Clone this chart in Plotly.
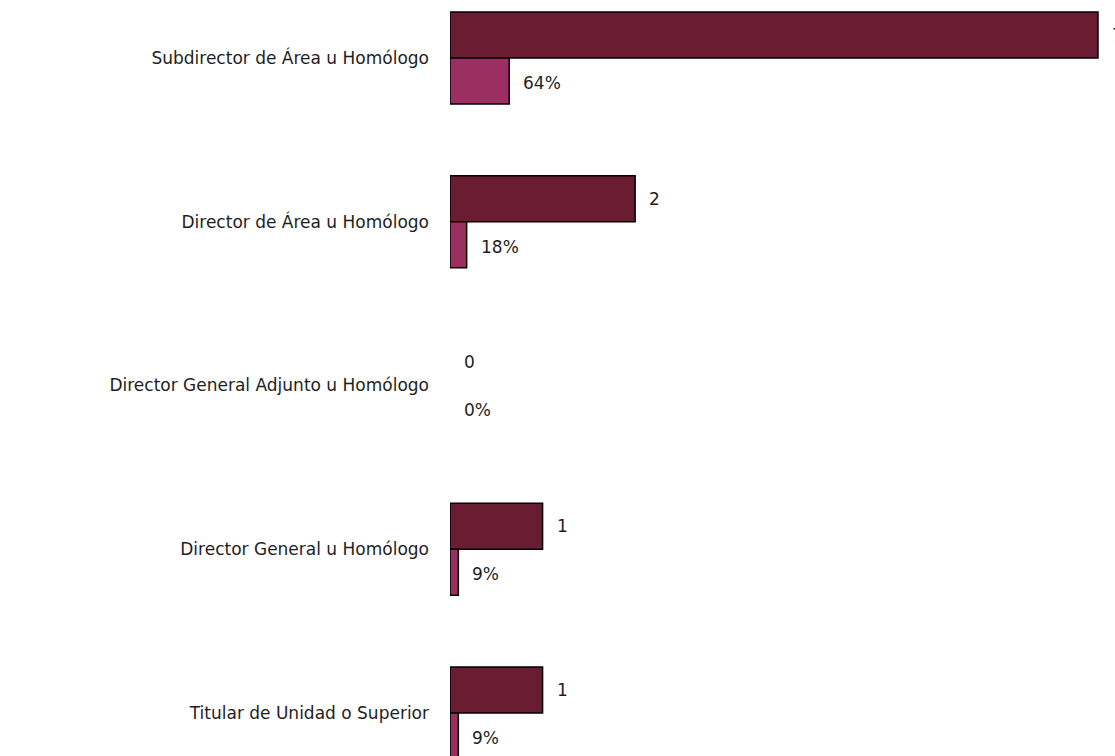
import plotly.graph_objects as go

# Puestos, de arriba hacia abajo
categorias = [
    "Subdirector de Área u Homólogo",
    "Director de Área u Homólogo",
    "Director General Adjunto u Homólogo",
    "Director General u Homólogo",
    "Titular de Unidad o Superior",
]
cantidad = [7, 2, 0, 1, 1]
porcentaje = [0.64, 0.18, 0.0, 0.09, 0.09]

COLOR_CANT = "#691C32"
COLOR_PCT = "#9C2F62"
FUENTE = "DejaVu Sans, Noto Sans, sans-serif"
COLOR_TEXTO = "#1E1E1E"


def bordes(valores):
    # sin contorno en barras de longitud cero
    return [1.5 if v > 0 else 0 for v in valores]


fig = go.Figure()
fig.add_trace(go.Bar(
    y=categorias, x=cantidad, orientation="h", name="Cantidad",
    marker=dict(color=COLOR_CANT, line=dict(color="#000000", width=bordes(cantidad))),
))
fig.add_trace(go.Bar(
    y=categorias, x=porcentaje, orientation="h", name="Porcentaje",
    marker=dict(color=COLOR_PCT, line=dict(color="#000000", width=bordes(porcentaje))),
))

# Etiquetas de valor junto al extremo de cada barra
anot = []
for cat, c, p in zip(categorias, cantidad, porcentaje):
    anot.append(dict(x=c, y=cat, xref="x", yref="y", text=str(c),
                     showarrow=False, xanchor="left", xshift=12, yshift=23,
                     font=dict(family=FUENTE, size=17, color=COLOR_TEXTO)))
    anot.append(dict(x=p, y=cat, xref="x", yref="y", text=f"{round(p*100)}%",
                     showarrow=False, xanchor="left", xshift=12, yshift=-25,
                     font=dict(family=FUENTE, size=17, color=COLOR_TEXTO)))

fig.update_layout(
    width=1115, height=756,
    margin=dict(l=450, r=0, t=0, b=0),
    paper_bgcolor="#FFFFFF", plot_bgcolor="rgba(0,0,0,0)",
    barmode="group", bargap=0.438, bargroupgap=0,
    showlegend=False,
    annotations=anot,
    font=dict(family=FUENTE, size=17, color=COLOR_TEXTO),
)
fig.update_xaxes(range=[0, 7.184], visible=False)
fig.update_yaxes(range=[4.263, -0.354], showgrid=False, zeroline=False,
                 showline=False, ticks="", ticklabelstandoff=20,
                 tickfont=dict(family=FUENTE, size=17, color=COLOR_TEXTO))

fig.write_html("out.html")
